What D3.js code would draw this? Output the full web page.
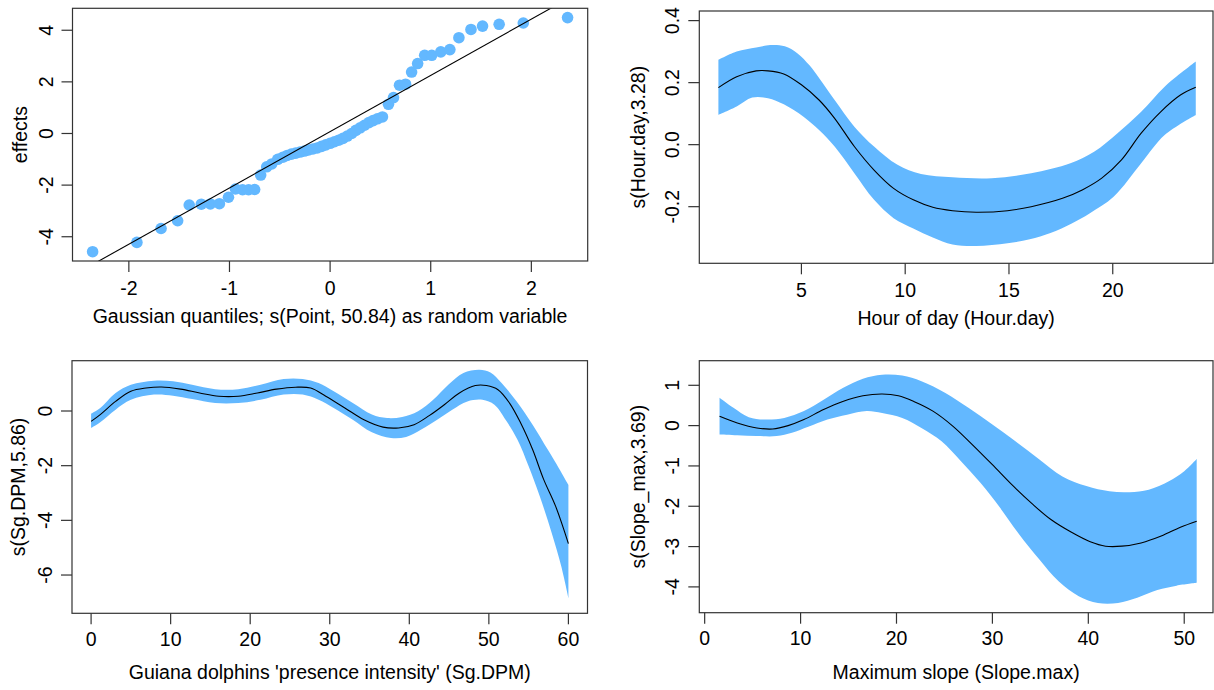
<!DOCTYPE html>
<html><head><meta charset="utf-8">
<script src="https://cdn.jsdelivr.net/npm/d3@7"></script>
<style>
body{margin:0;background:#fff}
svg{display:block}
text{font-family:"Liberation Sans",Arial,Helvetica,sans-serif;fill:#000}
</style>
</head><body>
<svg id="c" width="1214" height="690"></svg>
<script>
// ---------------- DATA ----------------
// Panel 1: QQ plot of random effect s(Point)
const qqQuantiles = [-2.36,-1.92,-1.68,-1.515,-1.40,-1.28,-1.19,-1.10,-1.01,-0.94,-0.87,-0.81,-0.75,-0.69,-0.63,-0.58,-0.52,
  -0.47,-0.427,-0.385,-0.342,-0.299,-0.256,-0.214,-0.171,-0.128,-0.085,-0.043,0,0.043,0.085,0.128,0.171,0.214,0.256,0.299,0.342,0.385,0.427,0.47,
  0.52,0.58,0.63,0.69,0.75,0.81,0.87,0.94,1.01,1.10,1.19,1.28,1.40,1.515,1.68,1.92,2.36];
const qqEffects = [-4.58,-4.22,-3.68,-3.38,-2.77,-2.74,-2.73,-2.72,-2.47,-2.15,-2.18,-2.18,-2.17,-1.61,-1.29,-1.18,-1.00,
  -0.92,-0.85,-0.80,-0.76,-0.72,-0.68,-0.64,-0.60,-0.56,-0.50,-0.44,-0.38,-0.32,-0.26,-0.19,-0.10,0.00,0.12,0.22,0.32,0.42,0.50,0.57,
  0.64,1.13,1.39,1.87,1.91,2.38,2.71,3.03,3.03,3.16,3.25,3.71,4.03,4.16,4.23,4.28,4.49];
const qqLine = [0.07, 2.18]; // intercept, slope
const qqXTicks = [-2,-1,0,1,2];
const qqXLabels = ["-2","-1","0","1","2"];
const qqYTicks = [-4,-2,0,2,4];
const qqYLabels = ["-4","-2","0","2","4"];

// Panel 2: s(Hour.day,3.28)
const hourFit = [[1,0.184],[1.88,0.219],[2.82,0.238],[3.39,0.238],[4.15,0.228],[5,0.193],[5.85,0.144],[6.6,0.085],[7.55,-0.006],[8.5,-0.082],[9.44,-0.141],[10.39,-0.178],[11.33,-0.202],[12.28,-0.213],[13.42,-0.218],[14.93,-0.213],[16.07,-0.2],[17.58,-0.173],[18.53,-0.146],[19.47,-0.108],[20.42,-0.049],[21.37,0.037],[22.31,0.106],[23.26,0.160],[24,0.185]];
const hourUpper = [[1,0.273],[1.88,0.30],[2.82,0.313],[3.5,0.321],[4.2,0.317],[4.8,0.295],[5.4,0.255],[5.85,0.215],[6.6,0.144],[7.55,0.058],[8.5,-0.006],[9.63,-0.065],[10.76,-0.095],[12.28,-0.105],[14.17,-0.108],[16.07,-0.092],[17.96,-0.06],[19.1,-0.023],[20.23,0.037],[21.37,0.106],[22.5,0.187],[24,0.268]];
const hourLower = [[1,0.096],[1.88,0.123],[2.63,0.152],[3.39,0.150],[4.15,0.130],[5.1,0.09],[5.85,0.047],[6.6,-0.006],[7.55,-0.092],[8.5,-0.178],[9.44,-0.237],[10.39,-0.27],[11.33,-0.299],[12.28,-0.322],[13.42,-0.327],[14.93,-0.318],[16.0,-0.305],[17.0,-0.285],[18.0,-0.255],[18.9,-0.221],[20.04,-0.168],[21.37,-0.06],[22.5,0.031],[24,0.096]];
const hourXTicks = [5,10,15,20];
const hourXLabels = ["5","10","15","20"];
const hourYTicks = [-0.2,0,0.2,0.4];
const hourYLabels = ["-0.2","0.0","0.2","0.4"];

// Panel 3: s(Sg.DPM,5.86)
const dpmFit = [[0,-0.38],[1.15,-0.13],[3.08,0.35],[5,0.72],[6.9,0.84],[8.85,0.88],[11.25,0.80],[13.65,0.66],[16.06,0.54],[18.5,0.54],[20.9,0.66],[23.3,0.80],[25.7,0.87],[27.6,0.84],[29.5,0.54],[31.9,0.11],[34.3,-0.32],[36.7,-0.59],[38.65,-0.62],[40.6,-0.5],[42.5,-0.17],[44.4,0.23],[46.3,0.66],[48.3,0.93],[49.7,0.93],[51.15,0.78],[52.6,0.29],[54,-0.44],[55.5,-1.41],[56.9,-2.51],[58.4,-3.49],[60,-4.85]];
const dpmUpper = [[0,-0.1],[1.15,0.11],[3.08,0.66],[5,0.96],[7.9,1.11],[10.3,1.09],[12.7,0.96],[15.6,0.8],[18.5,0.8],[21.3,0.96],[24.2,1.17],[26.6,1.17],[28.6,1.02],[30.5,0.72],[32.9,0.29],[35.3,-0.13],[37.2,-0.26],[39.1,-0.22],[41.1,-0.01],[43,0.41],[44.9,0.96],[46.8,1.39],[48.8,1.51],[50.2,1.41],[51.6,1.02],[53.5,0.35],[55.5,-0.5],[57.4,-1.41],[58.8,-2.09],[60,-2.70]];
const dpmLower = [[0,-0.62],[1.15,-0.41],[3.08,0.05],[5,0.41],[7.9,0.6],[10.3,0.56],[12.7,0.44],[15.6,0.29],[18.5,0.29],[21.3,0.41],[24.2,0.6],[26.6,0.6],[28.6,0.41],[30.5,0.11],[32.9,-0.32],[35.3,-0.78],[37.7,-0.99],[39.6,-0.95],[41.5,-0.68],[43.5,-0.32],[45.4,0.05],[47.3,0.35],[49.2,0.41],[50.7,0.23],[52.1,-0.32],[53.6,-1.05],[55,-2.02],[56.4,-3.12],[57.9,-4.46],[59.1,-5.68],[60,-6.84]];
const dpmXTicks = [0,10,20,30,40,50,60];
const dpmXLabels = ["0","10","20","30","40","50","60"];
const dpmYTicks = [-6,-4,-2,0];
const dpmYLabels = ["-6","-4","-2","0"];

// Panel 4: s(Slope_max,3.69)
const slopeFit = [[1.55,0.23],[3.4,0.066],[5.44,-0.058],[7.1,-0.083],[8.7,0],[10.35,0.15],[12.4,0.40],[14.4,0.60],[16.5,0.74],[18.5,0.785],[20.2,0.74],[21.8,0.6],[23.8,0.36],[25.9,-0.017],[27.9,-0.47],[30,-0.97],[32,-1.46],[34.1,-1.93],[36.1,-2.33],[38.2,-2.64],[40.2,-2.88],[41.8,-2.99],[43.5,-2.99],[45.5,-2.91],[47.6,-2.74],[49.6,-2.52],[51.3,-2.37]];
const slopeUpper = [[1.55,0.69],[3,0.44],[4.6,0.21],[6.3,0.15],[8.3,0.19],[10.35,0.36],[12.4,0.64],[14.4,0.93],[16.5,1.16],[18.5,1.26],[20.6,1.24],[22.6,1.10],[25.1,0.81],[27.5,0.44],[30,0.025],[32.4,-0.39],[34.9,-0.84],[37.3,-1.26],[39.8,-1.5],[42.2,-1.63],[44.3,-1.65],[46.3,-1.59],[48.4,-1.38],[50,-1.13],[51.3,-0.83]];
const slopeLower = [[1.55,-0.22],[3.4,-0.24],[5.44,-0.26],[7.5,-0.26],[9.1,-0.18],[10.8,-0.03],[12.8,0.15],[14.85,0.27],[16.9,0.36],[18.5,0.31],[20.6,0.19],[22.6,-0.06],[24.7,-0.39],[26.7,-0.88],[28.75,-1.42],[30.8,-2.04],[32.8,-2.70],[34.9,-3.32],[36.9,-3.86],[39,-4.23],[41,-4.40],[43.1,-4.40],[45.1,-4.27],[47.2,-4.08],[49.2,-3.97],[51.3,-3.90]];
const slopeXTicks = [0,10,20,30,40,50];
const slopeXLabels = ["0","10","20","30","40","50"];
const slopeYTicks = [-4,-3,-2,-1,0,1];
const slopeYLabels = ["-4","-3","-2","-1","0","1"];

// ---------------- DRAWING ----------------
const BLUE = "#63B8FF";
const FS = 19.5;
const TICK = 11;
const svg = d3.select("#c");

function panel(id, box, xDom, yDom, xTicks, xLabels, yTicks, yLabels, xTitle, yTitle, opt) {
  const x = d3.scaleLinear().domain(xDom).range([box.x0, box.x1]);
  const y = d3.scaleLinear().domain(yDom).range([box.y1, box.y0]);
  const g = svg.append("g");
  g.append("clipPath").attr("id", "clip" + id).append("rect")
    .attr("x", box.x0).attr("y", box.y0).attr("width", box.x1 - box.x0).attr("height", box.y1 - box.y0);
  const inner = g.append("g").attr("clip-path", "url(#clip" + id + ")");
  if (opt.draw) opt.draw(inner, x, y);
  g.append("rect").attr("x", box.x0).attr("y", box.y0)
    .attr("width", box.x1 - box.x0).attr("height", box.y1 - box.y0)
    .attr("fill", "none").attr("stroke", "#333").attr("stroke-width", 1.2);
  xTicks.forEach((t, i) => {
    const px = x(t);
    g.append("line").attr("x1", px).attr("x2", px).attr("y1", box.y1).attr("y2", box.y1 + TICK)
      .attr("stroke", "#333").attr("stroke-width", 1.2);
    g.append("text").attr("x", px).attr("y", box.y1 + opt.xLabOff).attr("dy", "0.36em")
      .attr("text-anchor", "middle").attr("font-size", FS).text(xLabels[i]);
  });
  yTicks.forEach((t, i) => {
    const py = y(t);
    g.append("line").attr("x1", box.x0 - TICK).attr("x2", box.x0).attr("y1", py).attr("y2", py)
      .attr("stroke", "#333").attr("stroke-width", 1.2);
    g.append("text").attr("transform", `translate(${box.x0 - opt.yLabOff},${py}) rotate(-90)`)
      .attr("dy", "0.36em").attr("text-anchor", "middle").attr("font-size", FS).text(yLabels[i]);
  });
  g.append("text").attr("x", (box.x0 + box.x1) / 2).attr("y", box.y1 + opt.xTitleOff)
    .attr("text-anchor", "middle").attr("font-size", FS).text(xTitle);
  g.append("text").attr("transform", `translate(${box.x0 - opt.yTitleOff},${(box.y0 + box.y1) / 2}) rotate(-90)`)
    .attr("text-anchor", "middle").attr("font-size", FS).text(yTitle);
}

function smoothPanel(fit, upper, lower) {
  return function (g, x, y) {
    const line = d3.line().x(d => x(d[0])).y(d => y(d[1])).curve(d3.curveCatmullRom.alpha(0.5));
    const up = line(upper);
    const lo = line(lower.slice().reverse());
    g.append("path").attr("d", up + "L" + lo.slice(1) + "Z").attr("fill", BLUE).attr("stroke", "none");
    g.append("path").attr("d", line(fit)).attr("fill", "none").attr("stroke", "#000").attr("stroke-width", 1.1);
  };
}

// Panel 1
panel(1, {x0: 72.5, x1: 587.7, y0: 8.3, y1: 261}, [-2.56, 2.56], [-4.94, 4.85],
  qqXTicks, qqXLabels, qqYTicks, qqYLabels,
  "Gaussian quantiles; s(Point, 50.84) as random variable", "effects",
  {xLabOff: 27, yLabOff: 27, xTitleOff: 62, yTitleOff: 46,
   draw: function (g, x, y) {
     g.selectAll("circle").data(qqQuantiles).enter().append("circle")
       .attr("cx", d => x(d)).attr("cy", (d, i) => y(qqEffects[i])).attr("r", 5.8).attr("fill", BLUE);
     const xd = x.domain();
     g.append("line").attr("x1", x(xd[0])).attr("y1", y(qqLine[0] + qqLine[1] * xd[0]))
       .attr("x2", x(xd[1])).attr("y2", y(qqLine[0] + qqLine[1] * xd[1]))
       .attr("stroke", "#000").attr("stroke-width", 1.1);
   }});

// Panel 2
panel(2, {x0: 699.3, x1: 1213, y0: 11, y1: 263.3}, [0.08, 24.83], [-0.3826, 0.431],
  hourXTicks, hourXLabels, hourYTicks, hourYLabels,
  "Hour of day (Hour.day)", "s(Hour.day,3.28)",
  {xLabOff: 27, yLabOff: 27, xTitleOff: 62, yTitleOff: 54,
   draw: smoothPanel(hourFit, hourUpper, hourLower)});

// Panel 3
panel(3, {x0: 72, x1: 587.5, y0: 360.7, y1: 613.3}, [-2.4, 62.4], [-7.40, 1.84],
  dpmXTicks, dpmXLabels, dpmYTicks, dpmYLabels,
  "Guiana dolphins 'presence intensity' (Sg.DPM)", "s(Sg.DPM,5.86)",
  {xLabOff: 25.5, yLabOff: 27, xTitleOff: 66, yTitleOff: 47,
   draw: smoothPanel(dpmFit, dpmUpper, dpmLower)});

// Panel 4
panel(4, {x0: 699.3, x1: 1213, y0: 360.7, y1: 612.7}, [-0.56, 53.0], [-4.64, 1.61],
  slopeXTicks, slopeXLabels, slopeYTicks, slopeYLabels,
  "Maximum slope (Slope.max)", "s(Slope_max,3.69)",
  {xLabOff: 25.5, yLabOff: 27, xTitleOff: 66, yTitleOff: 54,
   draw: smoothPanel(slopeFit, slopeUpper, slopeLower)});
</script>
</body></html>
